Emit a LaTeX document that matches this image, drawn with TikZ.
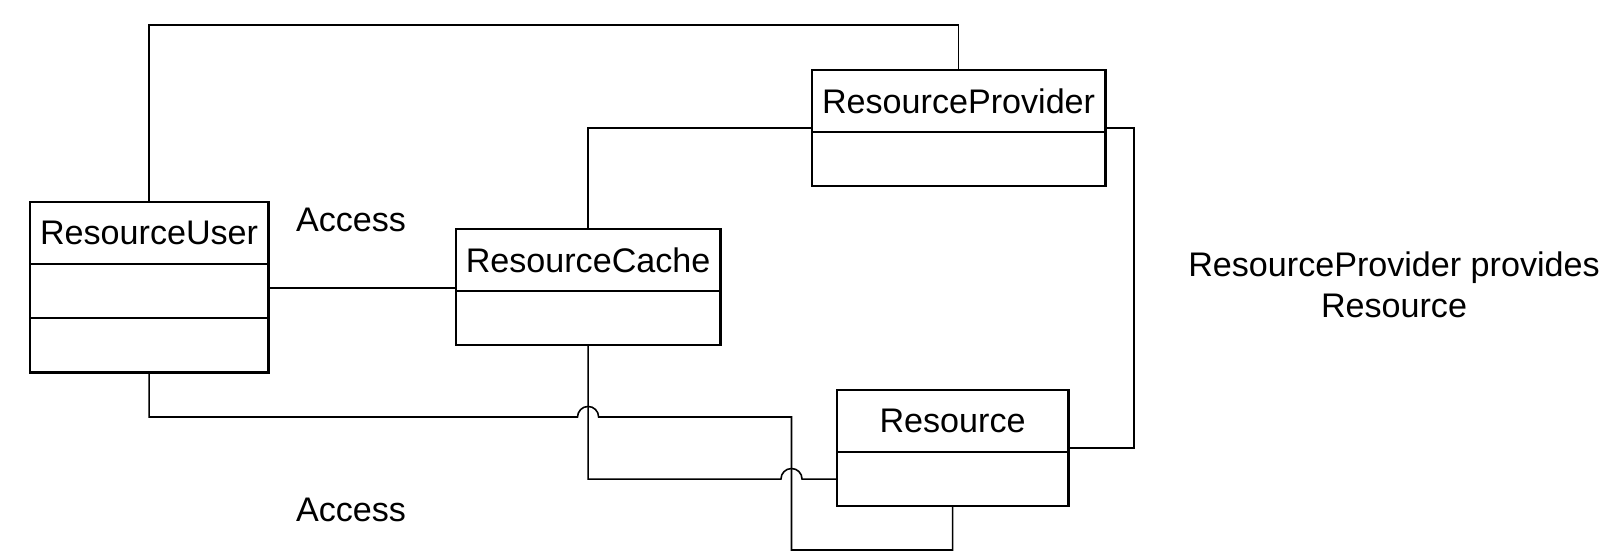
\documentclass[tikz,border=0pt]{standalone}
\usepackage{fontspec}
\setmainfont{Liberation Sans}
\usetikzlibrary{positioning}

\begin{document}
\begin{tikzpicture}[x=0.01cm, y=-0.01cm,
                    every node/.style={font=\fontsize{9.7}{11.5}\selectfont},
                    classname/.style={draw, line width=0.8pt, outer sep=0pt, inner sep=0pt, minimum height=0.62cm, anchor=north west},
                    classpart/.style={draw, line width=0.8pt, outer sep=0pt, inner sep=0pt, minimum height=0.54cm},
                    link/.style={line width=0.45pt}]
                    \useasboundingbox (0,0) rectangle (1610,558);

                    \node[classname, minimum width=2.38cm] (user) at (30,202) {ResourceUser};
                    \node[classpart, minimum width=2.38cm, below=0pt of user] (useratt) {};
                    \node[classpart, minimum width=2.38cm, below=0pt of useratt] (userops) {};

                    \node[classname, minimum width=2.64cm] (cache) at (456,229) {ResourceCache};
                    \node[classpart, minimum width=2.64cm, below=0pt of cache] (cacheatt) {};

                    \node[classname, minimum width=2.93cm] (provider) at (812,70) {ResourceProvider};
                    \node[classpart, minimum width=2.93cm, below=0pt of provider] (provideratt) {};

                    \node[classname, minimum width=2.31cm] (resource) at (837,390) {Resource};
                    \node[classpart, minimum width=2.31cm, below=0pt of resource] (resourceatt) {};

                    \node (access1) at (351,220) {Access};
                    \node (access2) at (351,510) {Access};
                    \node[align=center] (provides) at (1394,285) {ResourceProvider provides\\Resource};

                    \coordinate (toprail) at (500,25);
                    \coordinate (rprail) at (1134,300);
                    \coordinate (lowrail) at (0,417);
                    \coordinate (loopfoot) at (791.5,550);
                    \coordinate (hopA) at (cacheatt.south |- lowrail);
                    \coordinate (hopB) at (loopfoot |- resourceatt.west);

                    \draw[link] (user.north) |- (toprail) -| (provider.north);
                    \draw[link] ([yshift=0.9pt]useratt.east) -- ([yshift=0.9pt]useratt.east -| cache.west);
                    \draw[link] (cache.north) |- ([yshift=1.2pt]provider.south west);
                    \draw[link] ([yshift=1.2pt]provider.south east) -| (rprail) |- ([yshift=1.2pt]resource.south east);
                    \draw[link] (userops.south) |- ([xshift=-3pt]hopA) arc[start angle=180, end angle=0, radius=3pt]
                                -- (hopA -| loopfoot) -- (loopfoot) -| (resourceatt.south);
                    \draw[link] (cacheatt.south) |- ([xshift=-3pt]hopB) arc[start angle=180, end angle=0, radius=3pt]
                                -- (resourceatt.west);
                    %跳线%
                \end{tikzpicture}
\end{document}
